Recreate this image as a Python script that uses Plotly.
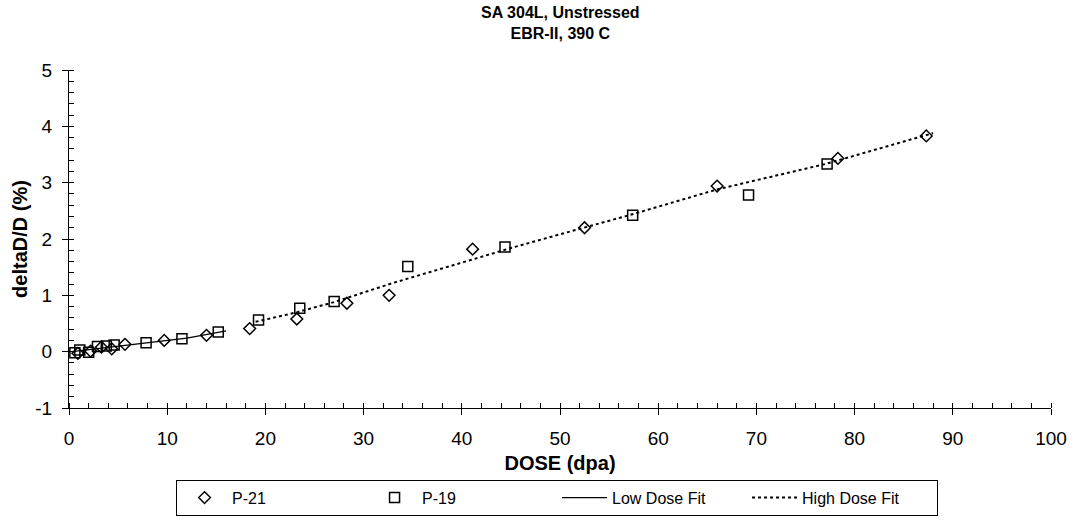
import plotly.graph_objects as go

# P-21 (diamonds)
p21_dose = [0.9, 2.2, 3.3, 4.35, 5.7, 9.7, 14.0, 18.4, 23.2, 28.3, 32.6, 41.1, 52.5, 66.0, 78.3, 87.3]
p21_val = [-0.03, 0.01, 0.08, 0.05, 0.13, 0.2, 0.29, 0.41, 0.58, 0.86, 1.0, 1.82, 2.2, 2.94, 3.43, 3.83]

# P-19 (squares)
p19_dose = [0.6, 1.1, 2.0, 2.9, 3.8, 4.6, 7.85, 11.5, 15.2, 19.3, 23.5, 27.0, 34.5, 44.4, 57.4, 69.2, 77.2]
p19_val = [-0.02, 0.03, -0.01, 0.09, 0.1, 0.12, 0.16, 0.23, 0.35, 0.56, 0.77, 0.89, 1.51, 1.86, 2.42, 2.78, 3.33]

# Fits
low_dose = [0.3, 4, 8, 12, 16]
low_val = [0.0, 0.08, 0.16, 0.24, 0.37]
high_dose = [19, 23, 27, 33, 40, 45, 52, 57, 66, 77, 88]
high_val = [0.53, 0.69, 0.88, 1.22, 1.58, 1.84, 2.18, 2.42, 2.88, 3.33, 3.88]

# Axis ticks
y_ticks = [-1, 0, 1, 2, 3, 4, 5]
y_ticklabels = ["-1", "0", "1", "2", "3", "4", "5"]

title_lines = ["SA 304L, Unstressed", "EBR-II, 390 C"]

FONT = "Liberation Sans, Arial, sans-serif"

fig = go.Figure()
fig.add_trace(go.Scatter(x=p21_dose, y=p21_val, mode="markers", name="P-21",
                         marker=dict(symbol="diamond-open", size=9, color="black", line=dict(width=1.5))))
fig.add_trace(go.Scatter(x=p19_dose, y=p19_val, mode="markers", name="P-19",
                         marker=dict(symbol="square-open", size=10, color="black", line=dict(width=1.5))))
fig.add_trace(go.Scatter(x=low_dose, y=low_val, mode="lines", name="Low Dose Fit",
                         line=dict(color="black", width=1.2)))
fig.add_trace(go.Scatter(x=high_dose, y=high_val, mode="lines", name="High Dose Fit",
                         line=dict(color="black", width=2, dash="dot")))

fig.add_annotation(text="<b>" + "<br>".join(title_lines) + "</b>", xref="paper", yref="paper",
                   x=0.5, y=1, xanchor="center", yanchor="bottom", yshift=26, showarrow=False,
                   font=dict(size=16, family=FONT, color="black"))

fig.update_layout(
    width=1072, height=520,
    margin=dict(l=69, r=21, t=70, b=112, autoexpand=False),
    paper_bgcolor="white", plot_bgcolor="white",
    font=dict(family=FONT, size=19, color="black"),
    xaxis=dict(range=[0, 100], dtick=10, showgrid=False, zeroline=False, automargin=False,
               showline=True, linecolor="black", linewidth=1,
               ticks="outside", ticklen=6, tickcolor="black", ticklabelstandoff=7,
               minor=dict(dtick=2, ticks="inside", ticklen=5, tickcolor="black"),
               title=dict(text="<b>DOSE (dpa)</b>", font=dict(size=20), standoff=8)),
    yaxis=dict(range=[-1, 5], tickvals=y_ticks, ticktext=y_ticklabels,
               showgrid=False, zeroline=False, automargin=False,
               showline=True, linecolor="black", linewidth=1,
               ticks="outside", ticklen=6, tickcolor="black", ticklabelstandoff=6,
               minor=dict(dtick=0.2, ticks="inside", ticklen=5, tickcolor="black"),
               title=dict(text="<b>deltaD/D (%)</b>", font=dict(size=20), standoff=2)),
    legend=dict(orientation="h", x=0.497, xanchor="center", y=-0.212, yanchor="top",
                bordercolor="black", borderwidth=1, bgcolor="white",
                font=dict(size=16), itemwidth=45, entrywidth=130, entrywidthmode="pixels"),
)

fig.write_html("out.html", config={"displayModeBar": False},
               post_script="document.body.style.margin='0';")
